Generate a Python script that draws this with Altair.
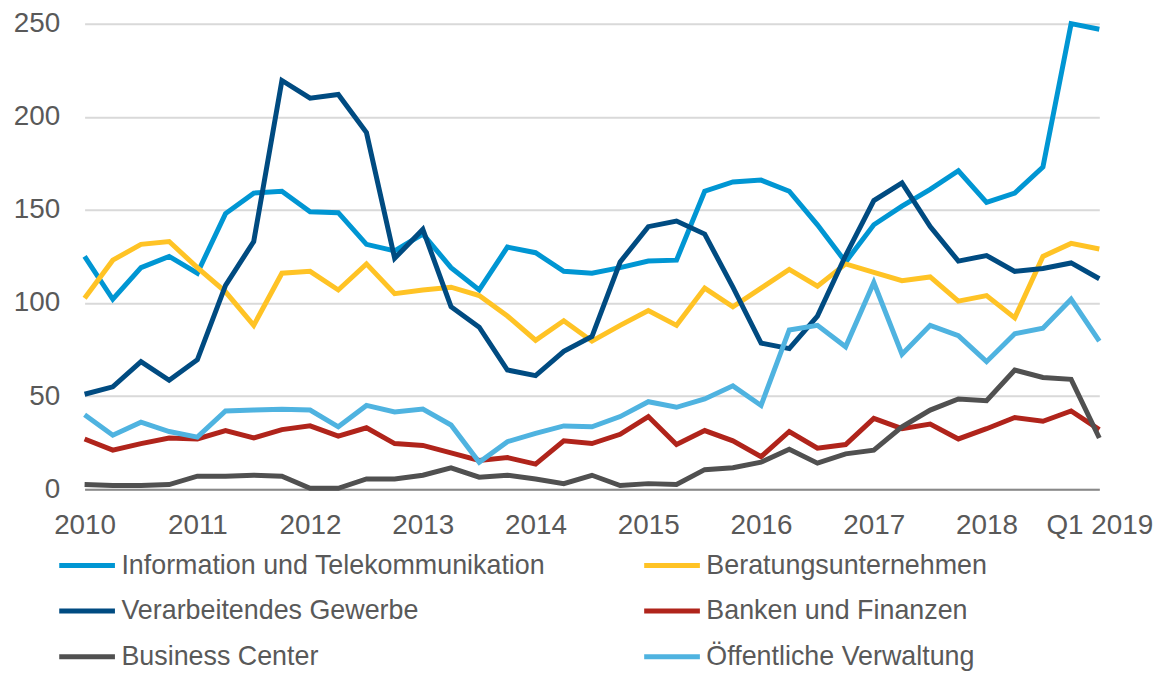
import altair as alt
import pandas as pd

# ---- data -------------------------------------------------------------
years = ["2010", "2011", "2012", "2013", "2014", "2015", "2016", "2017", "2018"]
quarters = [f"Q{q} {y}" for y in years for q in (1, 2, 3, 4)] + ["Q1 2019"]

tick_quarters = ["Q1 2010", "Q1 2011", "Q1 2012", "Q1 2013", "Q1 2014",
                 "Q1 2015", "Q1 2016", "Q1 2017", "Q1 2018", "Q1 2019"]
tick_labels = ["2010", "2011", "2012", "2013", "2014",
               "2015", "2016", "2017", "2018", "Q1 2019"]

series_names = [
    "Information und Telekommunikation",
    "Beratungsunternehmen",
    "Verarbeitendes Gewerbe",
    "Banken und Finanzen",
    "Business Center",
    "Öffentliche Verwaltung",
]
series_colors = ["#0096D3", "#FFC325", "#004B81", "#B0241B", "#505050", "#4FB3E0"]

itk = [125, 102, 119, 125, 116, 148, 159, 160, 149, 148.5, 131.5, 128, 137,
       119, 107, 130, 127, 117, 116, 119, 122.5, 123, 160, 165, 166, 160,
       142, 122, 142, 152, 161, 171, 154, 159, 173, 250, 247]
beratung = [102.5, 123, 131.5, 133, 119, 106, 88, 116, 117, 107, 121, 105, 107,
            108.5, 104, 93, 80, 90.5, 79.5, 88, 96, 88, 108, 98, 108, 118,
            109, 121, 116.5, 112, 114, 101, 104, 92, 125, 132, 129]
verarbeitend = [51, 55, 68.5, 58.5, 69.5, 109.5, 133, 219.5, 210, 212, 191.5, 124,
                139.5, 98, 87, 64, 61, 74, 82, 122, 141, 144, 137, 108.5, 78.5,
                75.5, 93, 125.5, 155, 164.5, 141, 122.5, 125.5, 117, 118.5, 121.5, 113]
banken = [27, 21, 24.5, 27.5, 27, 31.5, 27.5, 32, 34, 28.5, 33, 24.5, 23.5, 19.5,
          15.5, 17, 13.5, 26, 24.5, 29.5, 39, 24, 31.5, 26, 17.5, 31, 22, 24, 38,
          32.5, 35, 27, 32.5, 38.5, 36.5, 42, 32]
business = [2.5, 2, 2, 2.5, 7, 7, 7.5, 7, 0.5, 0.5, 5.5, 5.5, 7.5, 11.5, 6.5, 7.5,
            5.5, 3, 7.5, 2, 3, 2.5, 10.5, 11.5, 14.5, 21.5, 14, 19, 21, 33.5,
            42.5, 48.5, 47.5, 64, 60, 59, 27.5]
oeffentlich = [40, 29, 36, 31, 28, 42, 42.5, 43, 42.5, 33.5, 45, 41.5, 43, 34.5,
               14.5, 25.5, 30, 34, 33.5, 39, 47, 44, 48.5, 55.5, 45, 85.5, 88,
               76.5, 111, 72.5, 88, 82.5, 68.5, 83.5, 86.5, 102, 79.5]

y_ticks = [0, 50, 100, 150, 200, 250]

all_series = [itk, beratung, verarbeitend, banken, business, oeffentlich]
rows = []
for name, vals in zip(series_names, all_series):
    for q, v in zip(quarters, vals):
        rows.append({"Quartal": q, "Branche": name, "Wert": v})
df = pd.DataFrame(rows)

# ---- chart ------------------------------------------------------------
FONT = "Liberation Sans"
TXT = "#595959"

label_expr = (
    "[" + ",".join(f"'{t}'" for t in tick_labels) + "]"
    + "[indexof([" + ",".join(f"'{q}'" for q in tick_quarters) + "], datum.value)]"
)

chart = (
    alt.Chart(df)
    .mark_line(strokeWidth=5)
    .encode(
        x=alt.X(
            "Quartal:O",
            sort=quarters,
            scale=alt.Scale(type="point", padding=0),
            axis=alt.Axis(
                values=tick_quarters,
                labelExpr=label_expr,
                title=None,
                labelAngle=0,
                ticks=False,
                tickSize=0,
                grid=False,
                domainColor="#898989",
                domainWidth=2,
                labelFont=FONT,
                labelFontSize=28,
                labelColor=TXT,
                labelBaseline="alphabetic",
                labelPadding=45,
                labelOverlap=False,
            ),
        ),
        y=alt.Y(
            "Wert:Q",
            scale=alt.Scale(domain=[0, 250], nice=False),
            axis=alt.Axis(
                values=y_ticks,
                title=None,
                domain=False,
                ticks=False,
                tickSize=0,
                grid=True,
                gridColor="#D9D9D9",
                gridWidth=2,
                labelFont=FONT,
                labelFontSize=28,
                labelColor=TXT,
                labelPadding=25,
            ),
        ),
        color=alt.Color(
            "Branche:N",
            sort=series_names,
            scale=alt.Scale(domain=series_names, range=series_colors),
            legend=alt.Legend(
                title=None,
                orient="none",
                legendX=-28,
                legendY=514,
                columns=2,
                direction="horizontal",
                symbolType="stroke",
                symbolSize=3136,
                symbolStrokeWidth=5,
                labelFont=FONT,
                labelFontSize=27,
                labelColor=TXT,
                labelOffset=4,
                labelLimit=700,
                columnPadding=88,
                rowPadding=2,
                padding=0,
            ),
        ),
    )
    .properties(
        width=1020,
        height=468,
        autosize=alt.AutoSizeParams(type="none"),
        padding={"left": 77, "top": 14, "right": 59, "bottom": 182},
    )
    .configure_view(strokeWidth=0)
)

chart.save("out.html", embed_options={"renderer": "svg", "actions": False})
